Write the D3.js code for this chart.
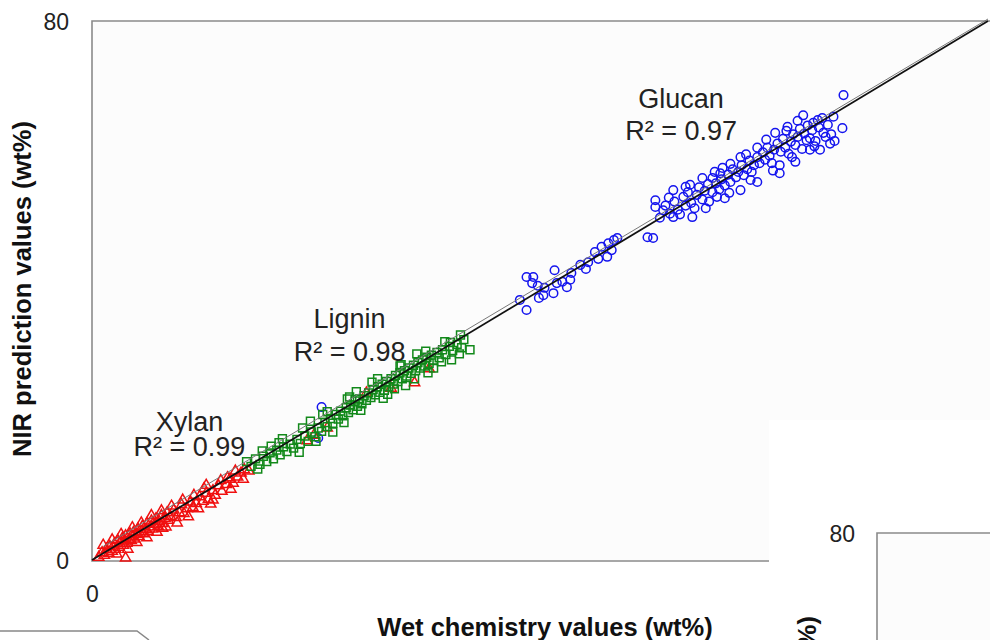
<!doctype html>
<html>
<head>
<style>
  body { margin: 0; background: #fff; }
  svg text { font-family: "Liberation Sans", Arial, sans-serif; }
</style>
<script src="https://d3js.org/d3.v7.min.js"></script>
</head>
<body>
<svg width="990" height="640"></svg>
<script>
// wet chemistry value, NIR prediction value (wt%)
var xylan = [
  [0.6,0.4],[0.9,1.1],[1.1,0.7],[1.3,1.6],[1.5,1.0],[1.6,2.0],[1.8,1.3],[2.0,2.4],[2.1,1.6],[2.3,2.9],
  [2.4,1.9],[2.5,2.5],[2.7,3.2],[2.8,2.2],[2.9,2.8],[3.0,3.6],[3.1,2.5],[3.0,0.3],[3.3,3.0],[3.4,3.9],
  [3.5,2.9],[3.6,3.4],[3.7,4.1],[3.8,3.1],[4.0,3.8],[4.1,4.6],[4.2,3.5],[4.4,4.2],[4.5,5.0],[4.6,3.9],
  [4.8,4.5],[4.9,5.4],[5.0,4.2],[5.2,4.9],[5.3,5.8],[5.4,4.6],[5.6,5.3],[5.7,6.1],[5.9,5.0],[6.0,5.7],
  [6.2,6.6],[6.3,4.7],[6.3,5.4],[6.5,6.2],[6.7,7.0],[6.8,5.9],[7.0,6.5],[7.3,7.4],[7.5,6.3],[7.8,7.0],
  [8.0,8.2],[8.2,6.9],[8.5,7.6],[8.8,8.6],[9.0,7.8],[9.3,8.4],[9.6,9.4],[9.9,8.7],[10.2,11.1],[10.2,9.9],
  [10.4,9.0],[10.8,8.9],[10.8,10.3],[11.0,9.6],[11.3,11.0],[11.6,10.2],[12.1,12.2],[12.0,11.2],[12.3,12.0],
  [12.6,11.4],[13.0,12.3],[13.3,12.9],[13.6,13.4],[14.0,13.2],
  [1.0,2.2],[1.8,3.0],[2.2,0.9],[2.6,3.8],[3.2,1.6],[3.6,4.8],[4.0,2.6],[4.4,5.5],[4.9,3.3],[5.3,6.6],
  [5.8,4.1],[6.2,7.3],[6.6,4.9],[7.1,8.0],[7.6,5.5],[8.1,8.9],[8.6,6.4],[9.1,9.6],[9.5,7.6],[10.0,10.6],
  [10.6,8.3],[11.5,11.8],[12.4,10.5],[12.8,13.2],[13.5,12.0],
  [19.2,17.7],[19.8,18.5],[21.0,19.6],[24.5,24.8],[26.7,25.5],[28.8,26.3],[30.1,28.4]
];
var lignin = [
  [13.8,14.6],[14.2,13.9],[14.6,15.0],[15.0,14.2],[15.3,15.4],[15.6,14.6],[15.9,15.9],[16.2,15.0],[16.5,16.3],[16.8,15.6],
  [17.1,16.8],[17.4,16.1],[17.7,17.2],[18.0,16.6],[18.3,17.9],[18.6,17.3],[19.0,18.4],[19.3,17.6],[19.6,19.0],[19.9,18.3],
  [20.2,19.6],[20.5,19.1],[20.8,20.4],[21.0,19.8],[21.3,21.0],[21.5,20.3],[21.8,21.6],[22.0,20.9],[22.2,22.1],[22.4,21.4],
  [22.7,22.6],[22.9,21.9],[23.1,23.0],[23.3,22.3],[23.5,23.6],[23.7,22.8],[23.9,23.9],[24.1,23.2],[24.3,24.4],[24.5,23.7],
  [24.7,24.8],[24.9,24.1],[25.1,25.3],[25.3,24.5],[25.5,25.7],[25.7,24.9],[25.9,26.1],[26.1,25.2],[26.3,26.5],[26.5,25.7],
  [26.7,26.9],[26.9,26.1],[27.1,27.4],[27.3,26.5],[27.5,27.8],[27.7,26.9],[27.9,28.1],[28.1,27.3],[28.3,28.5],[28.5,27.7],
  [28.7,28.9],[28.9,28.1],[29.1,29.3],[29.3,28.5],[29.5,29.7],[29.7,28.8],[29.9,30.1],[30.1,29.2],[30.3,30.4],[30.5,29.6],
  [30.8,30.8],[31.0,30.0],[31.3,31.2],[31.6,30.5],[31.9,31.7],[32.2,31.1],[32.6,32.0],[33.0,31.5],[32.0,32.3],
  [29.0,30.6],[27.5,28.8],[25.5,26.9],[23.0,24.2],[21.0,22.0],[18.8,19.6],[16.0,16.9],[20.0,17.6],[22.5,20.4],
  [26.0,24.0],[28.0,25.9],[30.5,28.5],[32.8,30.6],[32.9,33.4],[33.75,31.2],[32.1,29.7],
  [15.2,16.2],[17.0,18.0],[18.5,16.0],[19.5,20.6],[21.5,19.0],[22.8,23.9],[24.0,22.2],[25.0,26.4],[26.4,24.6],[27.6,29.0],
  [28.8,26.9],[29.8,31.0],[31.2,29.4],[31.5,32.4],[33.2,32.7],[14.8,13.5],[16.7,17.4],[20.6,21.6],[23.6,25.0],[27.0,25.4],
  [30.0,27.8]
];
var glucan = [
  [20.5,22.7],[20.2,18.1],
  [38.2,38.6],[38.8,37.1],[38.8,42.0],[39.4,42.0],[39.3,41.1],[39.8,40.7],[39.9,38.9],[40.4,40.4],
  [40.3,39.3],[41.3,43.0],[41.2,39.6],[41.5,41.1],[42.0,41.3],[42.4,40.5],[42.7,41.6],[42.8,42.6],[43.6,43.8],[44.1,43.2],
  [44.3,44.2],[44.9,45.7],[45.2,44.7],[45.5,46.5],[46.0,45.0],[46.1,47.0],[46.4,46.0],[46.6,47.5],[46.9,47.8],
  [49.6,47.9],[50.1,47.8],
  [50.3,53.4],[50.3,52.4],[51.0,51.9],[50.7,50.8],[51.9,50.9],[51.9,54.9],[53.4,55.7],[53.6,50.9],[54.5,56.7],[55.4,56.7],
  [55.8,53.9],[56.1,57.4],[56.3,58.2],[56.5,53.7],[57.9,59.8],[57.9,54.9],[59.4,61.2],[59.4,56.1],[61.0,63.4],[61.4,58.6],
  [61.4,57.4],[62.1,64.3],[62.8,59.1],[63.5,66.0],[63.8,62.3],[64.1,60.9],[64.4,64.9],[64.8,65.3],[65.0,60.9],[65.3,63.4],
  [67.0,64.1],[67.1,69.0],
  [51.2,52.6],[51.6,51.4],[52.0,53.2],[52.3,52.0],[52.5,51.3],[52.8,53.9],[53.0,52.6],[53.2,54.6],[53.5,53.0],[53.8,52.2],
  [54.0,54.2],[54.2,55.3],[54.5,53.5],[54.7,54.8],[55.0,55.8],[55.1,53.2],[55.4,54.6],[55.7,55.9],[56.0,55.0],[56.2,56.5],
  [56.5,55.6],[56.8,57.2],[57.0,56.1],[57.2,58.0],[57.5,56.8],[57.7,57.6],[58.0,58.6],[58.2,57.1],[58.5,58.0],[58.7,59.3],
  [58.9,57.6],[59.1,58.6],[59.4,59.8],[59.6,58.9],[59.9,60.5],[60.1,59.4],[60.3,61.2],[60.5,60.0],[60.7,58.9],[60.9,60.9],
  [61.2,61.8],[61.5,60.6],[61.7,62.5],[61.9,61.2],[62.2,60.3],[62.4,62.1],[62.6,63.2],[62.8,61.6],[63.0,62.8],[63.2,64.0],
  [63.4,61.0],[63.6,63.3],[63.9,64.5],[64.1,62.6],[64.3,63.8],[64.6,62.2],[64.9,64.2],[65.2,65.6],[65.5,62.8],[65.7,64.6],
  [66.0,63.2],[66.2,65.8],[65.9,61.8],[63.0,65.2],[62.0,63.7],[60.2,62.4],[58.4,60.2],[57.0,58.8],[55.6,57.6],[53.0,55.4],
  [51.5,53.8],[54.8,52.2],[56.9,54.5],[58.8,56.4],[60.8,57.8],[62.5,59.8],[64.5,61.4],[66.3,62.2]
];
var fitLine = [[0,0],[80,80]];
var refLine = [[1,2.0],[80,80.3]];
var xTicks = [0];
var yTicks = [0, 80];
var names = ["Xylan", "Lignin", "Glucan"];
var r2 = ["0.99", "0.98", "0.97"];

var svg = d3.select("svg");
var x = d3.scaleLinear().domain([0, 80]).range([92, 988]);
var y = d3.scaleLinear().domain([0, 80]).range([560, 21]);

// plot area
svg.append("rect").attr("x", 92).attr("y", 21).attr("width", 898).attr("height", 540).attr("fill", "#fcfcfc");
svg.append("rect").attr("x", 769).attr("y", 420).attr("width", 221).attr("height", 220).attr("fill", "#fff");
svg.append("path").attr("d", "M990,21H92V561H769").attr("fill", "none").attr("stroke", "#8a8a8a").attr("stroke-width", 1.6);

// edge of the neighbouring panel
svg.append("rect").attr("x", 877).attr("y", 533).attr("width", 113).attr("height", 107).attr("fill", "#fcfcfc");
svg.append("path").attr("d", "M990,533H877V640").attr("fill", "none").attr("stroke", "#8a8a8a").attr("stroke-width", 1.6);
svg.append("text").attr("x", 855).attr("y", 542).attr("text-anchor", "end")
  .style("font-size", "23px").attr("fill", "#222").text("80");
svg.append("text").attr("transform", "translate(807,616) rotate(-90)").attr("text-anchor", "end")
  .attr("dy", "0.35em").style("font-size", "25.5px").style("font-weight", "bold").attr("fill", "#111")
  .text("NIR prediction values (wt%)");
svg.append("path").attr("d", "M0,631H137L149,640").attr("fill", "none").attr("stroke", "#888").attr("stroke-width", 1.5);

// axes
var ya = svg.append("g").attr("transform", "translate(92,0)")
  .call(d3.axisLeft(y).tickValues(yTicks).tickSize(0).tickPadding(23));
ya.select(".domain").remove();
ya.selectAll("text").attr("dy", "0.38em").style("font-size", "23px").attr("fill", "#222")
  .style("font-family", "'Liberation Sans', Arial, sans-serif");

var xa = svg.append("g").attr("transform", "translate(0,560)")
  .call(d3.axisBottom(x).tickValues(xTicks).tickSize(0).tickPadding(26));
xa.select(".domain").remove();
xa.selectAll("text").style("font-size", "23px").attr("fill", "#222")
  .style("font-family", "'Liberation Sans', Arial, sans-serif");

svg.append("text").attr("x", 545).attr("y", 636).attr("text-anchor", "middle")
  .style("font-size", "25.5px").style("font-weight", "bold").attr("fill", "#111")
  .text("Wet chemistry values (wt%)");
svg.append("text").attr("transform", "translate(22,289) rotate(-90)").attr("text-anchor", "middle")
  .attr("dy", "0.35em").style("font-size", "25.5px").style("font-weight", "bold").attr("fill", "#111")
  .text("NIR prediction values (wt%)");

// points
svg.append("g").selectAll("circle").data(glucan).join("circle")
  .attr("cx", function(d) { return x(d[0]); })
  .attr("cy", function(d) { return y(d[1]); })
  .attr("r", 4.3)
  .attr("fill", "none").attr("stroke", "#1414ee").attr("stroke-width", 1.5);

var tri = d3.symbol().type(d3.symbolTriangle).size(46);
svg.append("g").selectAll("path").data(xylan).join("path")
  .attr("d", tri)
  .attr("transform", function(d) { return "translate(" + x(d[0]) + "," + y(d[1]) + ")"; })
  .attr("fill", "none").attr("stroke", "#f01010").attr("stroke-width", 1.5);

var sq = d3.symbol().type(d3.symbolSquare).size(62);
svg.append("g").selectAll("path").data(lignin).join("path")
  .attr("d", sq)
  .attr("transform", function(d) { return "translate(" + x(d[0]) + "," + y(d[1]) + ")"; })
  .attr("fill", "none").attr("stroke", "#12891a").attr("stroke-width", 1.5);

// lines
var line = d3.line().x(function(d) { return x(d[0]); }).y(function(d) { return y(d[1]); });
svg.append("path").datum(refLine).attr("d", line).attr("fill", "none").attr("stroke", "#777").attr("stroke-width", 1);
svg.append("path").datum(fitLine).attr("d", line).attr("fill", "none").attr("stroke", "#111").attr("stroke-width", 1.8);

// series labels
var labelAt = [[8.7, 19.2, 15.5], [23.0, 34.4, 29.5], [52.6, 67.1, 62.3]]; // x, name y, R² y (data units)
names.forEach(function(n, i) {
  var p = labelAt[i];
  svg.append("text").attr("x", x(p[0])).attr("y", y(p[1])).attr("text-anchor", "middle")
    .style("font-size", "27px").attr("fill", "#222").text(n);
  svg.append("text").attr("x", x(p[0])).attr("y", y(p[2])).attr("text-anchor", "middle")
    .style("font-size", "27px").attr("fill", "#222").text("R² = " + r2[i]);
});
</script>
</body>
</html>
